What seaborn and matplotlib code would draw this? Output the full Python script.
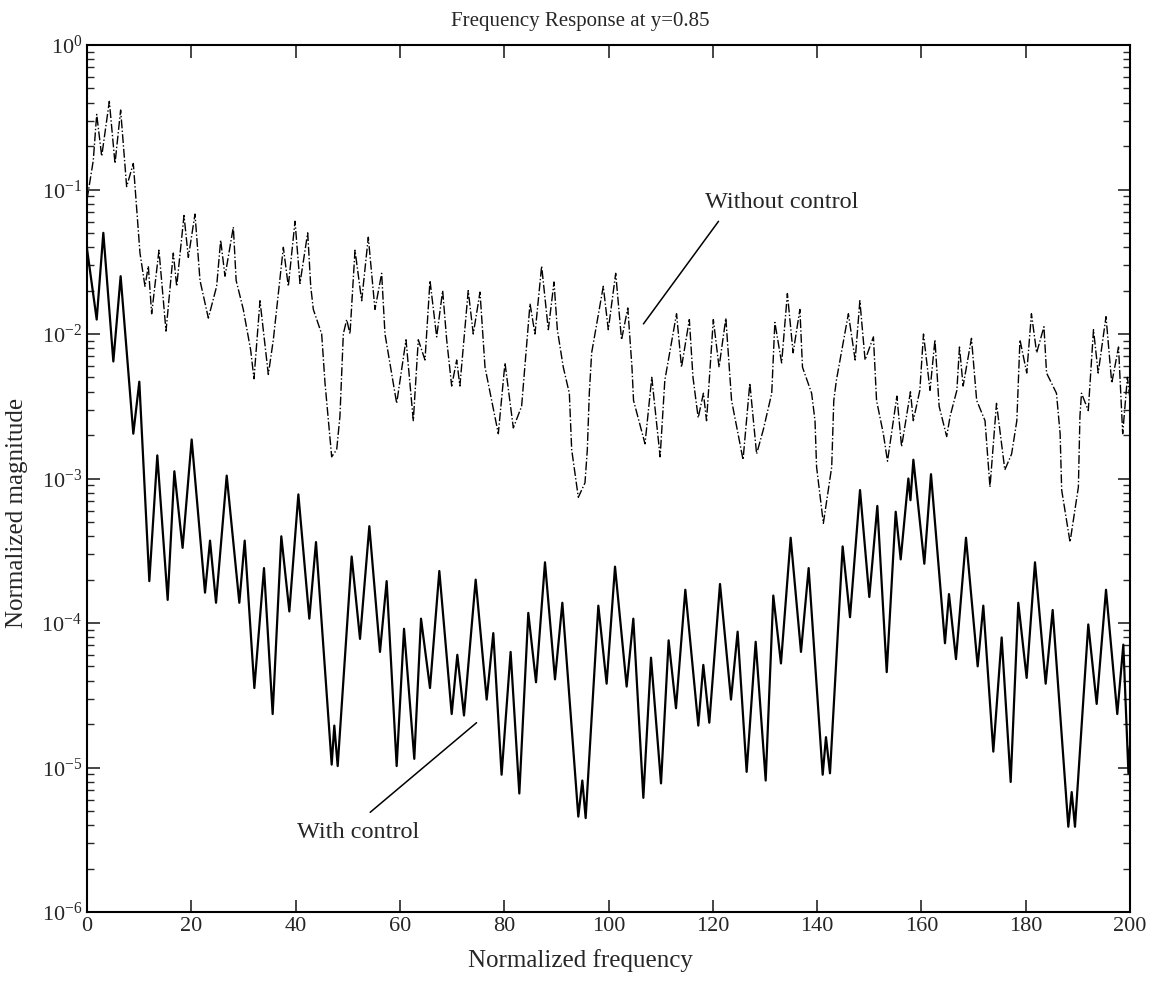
import numpy as np
import pandas as pd
import matplotlib
matplotlib.use("Agg")
import matplotlib.pyplot as plt
import seaborn as sns
from matplotlib.ticker import FixedLocator, LogLocator, NullFormatter, FuncFormatter

# ---- data (x = normalized frequency, log10 of magnitude) ----
with_x = [0, 1.86, 3.13, 5.05, 6.45, 8.88, 10.03, 11.95, 13.48, 15.47, 16.75, 18.33, 20.07,
          22.63, 23.59, 24.74, 26.79, 29.21, 30.24, 32.09, 33.94, 35.60, 37.26, 38.80, 40.53,
          42.63, 43.91, 46.92, 47.42, 48.07, 50.75, 52.35, 54.14, 56.18, 57.46, 59.38, 60.79,
          62.76, 64.05, 65.77, 67.56, 69.93, 71.01, 72.29, 74.53, 76.64, 77.91, 79.50, 81.23,
          82.90, 84.62, 86.10, 87.82, 89.74, 91.15, 94.21, 94.98, 95.62, 98.05, 99.64, 101.25,
          103.48, 104.76, 106.68, 108.15, 110.07, 111.53, 112.94, 114.73, 117.22, 118.18,
          119.33, 121.38, 123.49, 124.76, 126.49, 128.22, 130.14, 131.60, 133.07, 134.93,
          136.91, 138.38, 141.07, 141.70, 142.47, 144.90, 146.31, 148.23, 150.01, 151.55,
          153.35, 155.07, 156.03, 157.50, 157.90, 158.46, 160.56, 161.84, 164.52, 165.29,
          166.63, 168.55, 170.79, 171.87, 173.79, 175.39, 177.12, 178.58, 180.18, 181.78,
          183.83, 185.17, 188.17, 188.82, 189.45, 192.00, 193.61, 195.40, 197.56, 198.72,
          199.70, 200.0]
with_log = [-1.41, -1.90, -1.30, -2.19, -1.60, -2.69, -2.33, -3.71, -2.84, -3.84, -2.95, -3.48, -2.73,
            -3.79, -3.43, -3.86, -2.98, -3.86, -3.43, -4.45, -3.62, -4.63, -3.40, -3.92, -3.11,
            -3.97, -3.44, -4.98, -4.71, -4.99, -3.54, -4.11, -3.33, -4.20, -3.71, -4.99, -4.04,
            -4.94, -3.97, -4.45, -3.64, -4.63, -4.22, -4.64, -3.70, -4.53, -4.07, -5.05, -4.20,
            -5.18, -3.93, -4.41, -3.58, -4.39, -3.86, -5.34, -5.09, -5.35, -3.88, -4.42, -3.61,
            -4.44, -3.97, -5.21, -4.24, -5.11, -4.12, -4.59, -3.77, -4.71, -4.29,
            -4.69, -3.73, -4.53, -4.06, -5.03, -4.13, -5.09, -3.81, -4.28, -3.41,
            -4.20, -3.62, -5.05, -4.79, -5.04, -3.47, -3.96, -3.08, -3.82, -3.19,
            -4.34, -3.23, -3.56, -3.00, -3.15, -2.87, -3.59, -2.97, -4.14, -3.80,
            -4.25, -3.41, -4.30, -3.88, -4.89, -4.10, -5.10, -3.86, -4.38, -3.58,
            -4.42, -3.91, -5.41, -5.17, -5.41, -4.01, -4.56, -3.77, -4.63, -4.15,
            -5.04, -4.85]

without_x = [0, 1.2, 1.86, 2.82, 4.28, 5.37, 6.45, 7.6, 8.88, 9.4, 10.16, 11.12, 11.76, 12.4,
             13.8, 15.15, 16.55, 17.2, 18.6, 19.43, 20.71, 21.67, 23.27, 24.86, 25.63, 26.46,
             28.06, 28.6, 29.97, 31.38, 32.02, 33.17, 34.77, 35.73, 37.65, 38.6, 39.89, 40.84,
             42.32, 42.9, 43.4, 45.0, 45.64, 46.92, 47.88, 48.5, 49.15, 49.8, 50.43, 51.39,
             52.67, 53.94, 55.22, 56.5, 57.14, 59.38, 61.17, 62.57, 63.53, 64.81, 65.77, 67.05,
             68.2, 68.97, 69.93, 70.89, 71.5, 73.1, 74.07, 75.36, 76.32, 78.87, 80.15, 81.75,
             83.34, 84.95, 85.9, 87.18, 88.46, 89.55, 90.19, 91.33, 92.49, 92.94, 94.21, 95.49,
             95.94, 96.32, 96.77, 99.0, 99.96, 101.38, 102.5, 103.7, 104.5, 104.8, 107.0, 108.3,
             109.9, 110.8, 113.05, 114.0, 115.5, 116.2, 117.2, 118.2, 118.8, 120.1, 121.2, 122.5,
             123.6, 125.8, 127.1, 128.4, 129.7, 131.3, 131.9, 133.2, 134.3, 135.4, 136.7, 137.2,
             138.95, 139.6, 139.9, 141.2, 142.8, 143.2, 143.7, 146.0, 147.3, 148.2, 149.2, 150.8,
             151.4, 152.7, 153.5, 155.3, 156.2, 157.9, 158.45, 159.7, 160.4, 161.65, 162.6, 163.4,
             164.85, 165.5, 166.8, 167.3, 168.0, 169.6, 170.6, 172.2, 173.15, 174.4, 176.0, 177.3,
             178.3, 178.9, 180.2, 181.1, 182.1, 183.5, 184.0, 185.9, 186.6, 186.9, 188.5, 190.1,
             190.4, 190.7, 192.0, 193.0, 193.9, 195.4, 196.5, 197.8, 198.6, 199.5, 200.0]
without_log = [-1.07, -0.80, -0.48, -0.77, -0.39, -0.82, -0.45, -0.98, -0.82, -1.07, -1.44, -1.67, -1.53, -1.86,
               -1.42, -1.98, -1.44, -1.67, -1.18, -1.47, -1.17, -1.63, -1.89, -1.67, -1.35, -1.60,
               -1.26, -1.63, -1.83, -2.11, -2.31, -1.77, -2.28, -2.04, -1.40, -1.67, -1.22, -1.65,
               -1.30, -1.67, -1.83, -2.00, -2.34, -2.85, -2.80, -2.57, -2.00, -1.90, -2.00, -1.42,
               -1.77, -1.33, -1.83, -1.58, -2.00, -2.48, -2.04, -2.60, -2.04, -2.18, -1.63, -2.02,
               -1.70, -2.04, -2.36, -2.18, -2.36, -1.70, -2.00, -1.71, -2.23, -2.69, -2.20, -2.65,
               -2.50, -1.79, -2.00, -1.53, -1.97, -1.64, -1.97, -2.23, -2.41, -2.80, -3.13, -3.03,
               -2.80, -2.41, -2.13, -1.67, -1.97, -1.58, -2.04, -1.82, -2.23, -2.46, -2.76, -2.30,
               -2.85, -2.32, -1.86, -2.23, -1.90, -2.30, -2.58, -2.41, -2.60, -1.90, -2.23, -1.89,
               -2.46, -2.87, -2.34, -2.83, -2.66, -2.41, -1.92, -2.20, -1.72, -2.13, -1.83, -2.23,
               -2.41, -2.60, -2.92, -3.31, -2.92, -2.46, -2.32, -1.86, -2.18, -1.77, -2.18, -2.02,
               -2.46, -2.69, -2.88, -2.43, -2.78, -2.40, -2.60, -2.39, -2.00, -2.39, -2.04, -2.50,
               -2.71, -2.57, -2.39, -2.09, -2.36, -2.03, -2.46, -2.60, -3.06, -2.48, -2.94, -2.83,
               -2.60, -2.04, -2.27, -1.86, -2.13, -1.95, -2.27, -2.41, -2.69, -3.08, -3.44, -3.06,
               -2.57, -2.41, -2.53, -1.97, -2.27, -1.88, -2.34, -2.09, -2.69, -2.30, -2.45]

x_ticks = [0, 20, 40, 60, 80, 100, 120, 140, 160, 180, 200]
y_decades = [-6, -5, -4, -3, -2, -1, 0]

title = "Frequency Response at y=0.85"
xlabel = "Normalized frequency"
ylabel = "Normalized magnitude"
label_without = "Without control"
label_with = "With control"

df_with = pd.DataFrame({"f": with_x, "mag": np.power(10.0, with_log)})
df_without = pd.DataFrame({"f": without_x, "mag": np.power(10.0, without_log)})

sns.set_style("ticks")
plt.rcParams["font.family"] = ["Liberation Serif", "DejaVu Serif"]
plt.rcParams["mathtext.fontset"] = "custom"
plt.rcParams["mathtext.rm"] = "Liberation Serif"
plt.rcParams["mathtext.it"] = "Liberation Serif:italic"

fig = plt.figure(figsize=(11.56, 9.82), dpi=100)
ax = fig.add_axes([87 / 1156, 1 - 912 / 982, (1130 - 87) / 1156, (912 - 45) / 982])

sns.lineplot(data=df_without, x="f", y="mag", ax=ax, color="black", linewidth=1.0,
             linestyle="-.", estimator=None, sort=False)
sns.lineplot(data=df_with, x="f", y="mag", ax=ax, color="black", linewidth=1.6,
             linestyle="-", estimator=None, sort=False)

ax.set_yscale("log")
ax.set_xlim(0, 200)
ax.set_ylim(1e-6, 1e0)
ax.xaxis.set_major_locator(FixedLocator(x_ticks))
ax.yaxis.set_major_locator(FixedLocator([10.0 ** d for d in y_decades]))
ax.yaxis.set_minor_locator(LogLocator(base=10, subs=np.arange(2, 10) * 1.0, numticks=20))
ax.yaxis.set_minor_formatter(NullFormatter())
ax.yaxis.set_major_formatter(FuncFormatter(lambda v, p: r"$\mathregular{10^{%d}}$" % int(round(np.log10(v)))))
ax.tick_params(axis="both", which="both", direction="in", top=True, right=True, labelsize=16)
ax.tick_params(axis="both", which="major", length=9, width=1.2)
ax.tick_params(axis="y", which="minor", length=5, width=1.0)
for s in ax.spines.values():
    s.set_linewidth(1.5)
    s.set_color("black")

ax.set_title(title, fontsize=15, x=0.4727, pad=14)
ax.set_xlabel(xlabel, fontsize=18)
ax.xaxis.set_label_coords(0.4727, -0.043)
ax.set_ylabel(ylabel, fontsize=18)
ax.yaxis.set_label_coords(-0.057, 0.46)

# annotation leader lines and labels
ax.annotate("", xy=(106.7, 10 ** -1.93), xytext=(121.1, 10 ** -1.22),
            arrowprops=dict(arrowstyle="-", color="black", lw=1.1, shrinkA=0, shrinkB=0))
ax.text(118.5, 10 ** -1.09, label_without, fontsize=17.5, ha="left", va="center")
ax.annotate("", xy=(74.7, 10 ** -4.69), xytext=(54.3, 10 ** -5.31),
            arrowprops=dict(arrowstyle="-", color="black", lw=1.1, shrinkA=0, shrinkB=0))
ax.text(40.3, 10 ** -5.45, label_with, fontsize=17.5, ha="left", va="center")

fig.savefig("out.png", dpi=100)
